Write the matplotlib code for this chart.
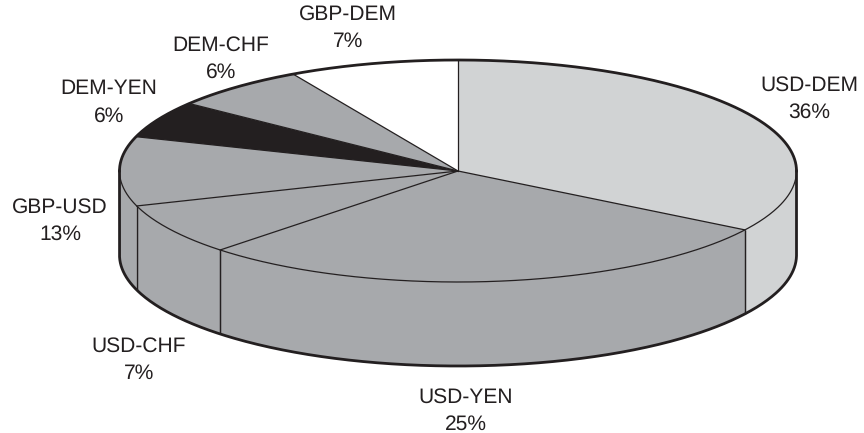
import numpy as np
import matplotlib
matplotlib.use("Agg")
import matplotlib.pyplot as plt
from matplotlib.patches import Polygon

pairs = ["USD-DEM", "USD-YEN", "USD-CHF", "GBP-USD", "DEM-YEN", "DEM-CHF", "GBP-DEM"]
pct_labels = ["36%", "25%", "7%", "13%", "6%", "6%", "7%"]
# the drawn slices don't follow the printed percentages, these are read off the picture
shares = [33.9, 28.5, 7.5, 10.1, 5.4, 6.5, 8.1]

colors = ["#d1d3d4", "#a7a9ac", "#a7a9ac", "#a7a9ac", "#231f20", "#a7a9ac", "#ffffff"]
ink = "#231f20"

cx, cy = 458, 171
rx, ry = 338.5, 111
depth = 84

label_pos = [(809, 85), (466, 397), (139, 346), (60, 207), (109, 89), (221, 45), (348, 14)]
line_gap = 27.5


def rim(a1, a2, drop=0):
    t = np.radians(np.linspace(a1, a2, max(int(abs(a2 - a1) * 2), 2)))
    return np.column_stack([cx + rx * np.cos(t), cy - ry * np.sin(t) + drop])


plt.rcParams["font.family"] = ["Liberation Sans", "DejaVu Sans"]
plt.rcParams["text.hinting"] = "no_hinting"
plt.rcParams["text.hinting_factor"] = 1
fig = plt.figure(figsize=(8.64, 4.33), dpi=100)
ax = fig.add_axes([0, 0, 1, 1])
ax.set_xlim(0, 864)
ax.set_ylim(433, 0)
ax.axis("off")

ends = 90 - np.cumsum([0] + shares) * 3.6

# side wall, only the front half of the ellipse shows
for i in range(len(shares)):
    lo, hi = ends[i + 1], ends[i]
    for shift in (0, -360):
        l, h = max(lo + shift, -180), min(hi + shift, 0)
        if h > l:
            top = rim(h, l)
            bottom = rim(l, h, depth)
            ax.add_patch(Polygon(np.vstack([top, bottom]), closed=True, fc=colors[i], ec="none"))
            for a in (l, h):
                if -180 < a < 0:
                    p = rim(a, a)[0]
                    ax.plot([p[0], p[0]], [p[1], p[1] + depth], color=ink, lw=0.9, solid_capstyle="butt")

# top face
for i in range(len(shares)):
    pts = np.vstack([[cx, cy], rim(ends[i], ends[i + 1])])
    ax.add_patch(Polygon(pts, closed=True, fc=colors[i], ec="none"))
    ax.plot([cx, pts[1, 0]], [cy, pts[1, 1]], color=ink, lw=0.9)

# rim lines: thin on the front edge of the top, heavy round the outside
front = rim(180, 360)
ax.plot(front[:, 0], front[:, 1], color=ink, lw=0.9)
back = rim(0, 180)
ax.plot(back[:, 0], back[:, 1], color=ink, lw=2)
low = rim(180, 360, depth)
outline_x = np.concatenate([[cx - rx], low[:, 0], [cx + rx]])
outline_y = np.concatenate([[cy], low[:, 1], [cy]])
ax.plot(outline_x, outline_y, color=ink, lw=2)

for name, pct, (x, y) in zip(pairs, pct_labels, label_pos):
    ax.text(x, y, name, ha="center", va="center", fontsize=15, color=ink)
    ax.text(x, y + line_gap, pct, ha="center", va="center", fontsize=15, color=ink)

fig.savefig("out.png", dpi=100)
